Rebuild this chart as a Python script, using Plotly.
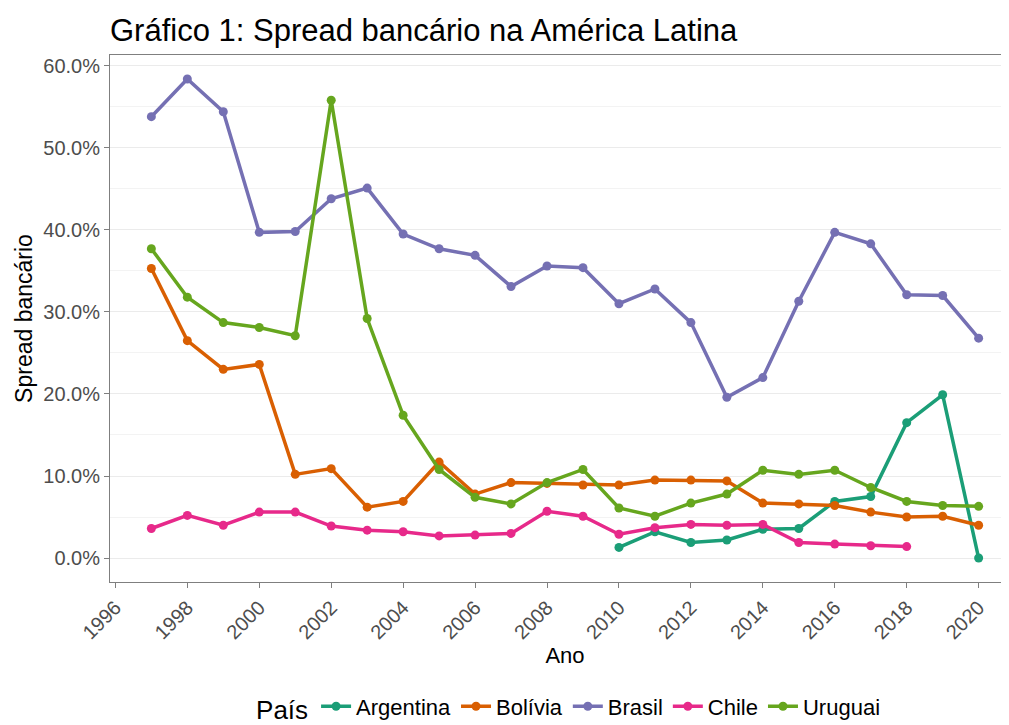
import plotly.graph_objects as go

years = list(range(1997, 2021))

argentina_years = list(range(2010, 2021))
argentina = [1.3, 3.2, 1.9, 2.2, 3.5, 3.6, 6.9, 7.5, 16.5, 19.9, 0.0]

bolivia = [35.3, 26.5, 23.0, 23.6, 10.2, 10.9, 6.2, 6.9, 11.7, 7.8, 9.2, 9.1,
           8.9, 8.9, 9.5, 9.5, 9.4, 6.7, 6.6, 6.4, 5.6, 5.0, 5.1, 4.0]

brasil = [53.8, 58.4, 54.4, 39.7, 39.8, 43.8, 45.1, 39.5, 37.7, 36.9, 33.1, 35.6,
          35.4, 31.0, 32.8, 28.7, 19.6, 22.0, 31.3, 39.7, 38.3, 32.1, 32.0, 26.8]

chile_years = list(range(1997, 2019))
chile = [3.6, 5.2, 4.0, 5.6, 5.6, 3.9, 3.4, 3.2, 2.7, 2.8, 3.0, 5.7,
         5.1, 2.9, 3.7, 4.1, 4.0, 4.1, 1.9, 1.7, 1.5, 1.4]

uruguai = [37.7, 31.8, 28.7, 28.1, 27.1, 55.8, 29.2, 17.4, 10.8, 7.4, 6.6, 9.2,
           10.8, 6.1, 5.1, 6.7, 7.8, 10.7, 10.2, 10.7, 8.6, 6.9, 6.4, 6.3]

series = [
    ("Argentina", argentina_years, argentina, "#1B9E77"),
    ("Bolívia", years, bolivia, "#D95F02"),
    ("Brasil", years, brasil, "#7570B3"),
    ("Chile", chile_years, chile, "#E7298A"),
    ("Uruguai", years, uruguai, "#66A61E"),
]

xticks = list(range(1996, 2021, 2))

fig = go.Figure()
for name, xs, ys, color in series:
    fig.add_trace(go.Scatter(
        x=xs, y=[v / 100 for v in ys], name=name, mode="lines+markers",
        line=dict(color=color, width=3.5), marker=dict(color=color, size=9),
    ))

font = "Liberation Sans, Arial, sans-serif"
W, H = 1012, 725
fig.update_layout(
    width=W, height=H,
    plot_bgcolor="white", paper_bgcolor="white",
    margin=dict(l=102, r=0, t=47, b=151),
    font=dict(family=font, color="#000000"),
    title=dict(text="Gráfico 1: Spread bancário na América Latina",
               x=102 / W, xanchor="left", y=1 - 22 / H, yanchor="middle",
               font=dict(size=31, color="#000000")),
    showlegend=True,
    legend=dict(orientation="h", x=0.505, xanchor="center", y=-0.238, yanchor="middle",
                title=dict(text="País", font=dict(size=26)),
                font=dict(size=22)),
    hovermode=False,
)
fig.update_xaxes(
    range=[1995.85, 2021.15], tickmode="array", tickvals=xticks,
    ticktext=[str(t) for t in xticks], tickangle=-45,
    tickfont=dict(size=20, color="#4d4d4d"),
    ticks="outside", ticklen=5, tickcolor="#7f7f7f",
    showgrid=False, zeroline=False,
    showline=True, linecolor="#7f7f7f", linewidth=1, mirror=True,
    title=dict(text="Ano", font=dict(size=22), standoff=5),
)
fig.update_yaxes(
    range=[-0.0292, 0.6132], tickmode="array",
    tickvals=[0, 0.1, 0.2, 0.3, 0.4, 0.5, 0.6], tickformat=".1%",
    tickfont=dict(size=20, color="#4d4d4d"),
    ticks="outside", ticklen=5, tickcolor="#7f7f7f",
    showgrid=True, gridcolor="#ebebeb", gridwidth=1, zeroline=False,
    minor=dict(tickvals=[0.05, 0.15, 0.25, 0.35, 0.45, 0.55], showgrid=True,
               gridcolor="#f3f3f3", gridwidth=1, ticks=""),
    showline=True, linecolor="#7f7f7f", linewidth=1, mirror=True,
    title=dict(text="Spread bancário", font=dict(size=23), standoff=4),
)

fig.write_html("out.html")
